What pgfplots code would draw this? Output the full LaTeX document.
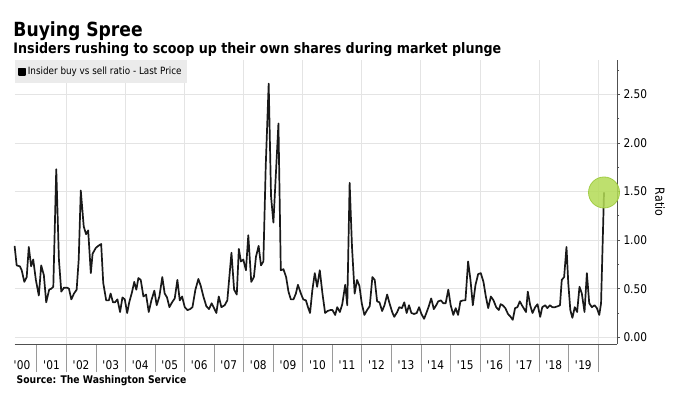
\documentclass[border=0pt]{standalone}
\usepackage{fontspec}
\setmainfont{DejaVu Sans}[FakeStretch=0.88]
\usepackage{pgfplots}
\usepackage{pgfplotstable}
\pgfplotsset{compat=1.18}
\definecolor{gridc}{HTML}{E4E4E4}
\definecolor{axc}{HTML}{505050}
\definecolor{sepc}{HTML}{9A9A9A}
\definecolor{legc}{HTML}{EBEBEB}
\definecolor{circf}{HTML}{B3DB55}
\definecolor{circd}{HTML}{9CC93C}
\newcommand\q{\textquotesingle}

\pgfplotstableread{
year ratio
2000.25 0.94
2000.32 0.74
2000.43 0.73
2000.49 0.69
2000.58 0.57
2000.66 0.62
2000.73 0.93
2000.81 0.73
2000.88 0.80
2000.97 0.59
2001.07 0.43
2001.15 0.74
2001.24 0.64
2001.32 0.36
2001.42 0.49
2001.49 0.50
2001.56 0.52
2001.66 1.73
2001.75 0.80
2001.83 0.47
2001.92 0.51
2002.03 0.51
2002.09 0.50
2002.17 0.39
2002.26 0.45
2002.35 0.49
2002.42 0.80
2002.49 1.51
2002.59 1.14
2002.67 1.06
2002.74 1.10
2002.83 0.66
2002.89 0.86
2003.00 0.92
2003.08 0.94
2003.18 0.96
2003.25 0.56
2003.35 0.38
2003.44 0.38
2003.50 0.45
2003.58 0.36
2003.65 0.36
2003.73 0.39
2003.82 0.26
2003.90 0.41
2003.98 0.39
2004.06 0.25
2004.13 0.36
2004.22 0.46
2004.30 0.57
2004.37 0.49
2004.44 0.61
2004.52 0.59
2004.61 0.42
2004.70 0.44
2004.79 0.26
2004.88 0.38
2004.98 0.48
2005.06 0.33
2005.15 0.42
2005.25 0.62
2005.33 0.45
2005.41 0.41
2005.49 0.31
2005.58 0.36
2005.67 0.40
2005.76 0.59
2005.84 0.38
2005.92 0.42
2006.01 0.31
2006.10 0.28
2006.19 0.29
2006.27 0.31
2006.37 0.49
2006.47 0.60
2006.55 0.53
2006.64 0.42
2006.74 0.32
2006.83 0.29
2006.92 0.35
2007.00 0.30
2007.08 0.25
2007.16 0.42
2007.25 0.31
2007.36 0.33
2007.45 0.38
2007.59 0.87
2007.68 0.49
2007.77 0.44
2007.84 0.91
2007.91 0.78
2007.99 0.80
2008.08 0.69
2008.16 1.05
2008.26 0.57
2008.35 0.62
2008.42 0.83
2008.51 0.94
2008.59 0.74
2008.67 0.78
2008.75 1.76
2008.85 2.61
2008.93 1.45
2009.01 1.18
2009.10 1.72
2009.18 2.20
2009.26 0.69
2009.35 0.70
2009.44 0.62
2009.52 0.47
2009.60 0.39
2009.69 0.39
2009.77 0.45
2009.84 0.54
2009.94 0.45
2010.02 0.39
2010.11 0.38
2010.18 0.31
2010.25 0.25
2010.33 0.49
2010.41 0.66
2010.49 0.52
2010.58 0.69
2010.67 0.45
2010.76 0.25
2010.84 0.27
2010.93 0.28
2011.01 0.28
2011.10 0.23
2011.17 0.31
2011.26 0.26
2011.34 0.34
2011.44 0.54
2011.51 0.33
2011.59 1.59
2011.67 0.93
2011.76 0.45
2011.84 0.59
2011.92 0.53
2012.00 0.35
2012.09 0.23
2012.18 0.28
2012.27 0.32
2012.36 0.62
2012.44 0.59
2012.52 0.37
2012.60 0.36
2012.69 0.27
2012.77 0.33
2012.86 0.44
2012.94 0.35
2013.03 0.26
2013.10 0.21
2013.20 0.26
2013.27 0.31
2013.36 0.30
2013.44 0.36
2013.52 0.25
2013.60 0.33
2013.68 0.25
2013.77 0.24
2013.86 0.25
2013.94 0.31
2014.02 0.24
2014.11 0.19
2014.20 0.26
2014.27 0.32
2014.35 0.40
2014.44 0.29
2014.52 0.33
2014.59 0.37
2014.68 0.38
2014.76 0.35
2014.84 0.35
2014.93 0.49
2015.01 0.33
2015.10 0.23
2015.18 0.30
2015.26 0.23
2015.34 0.37
2015.43 0.38
2015.51 0.38
2015.60 0.78
2015.68 0.59
2015.76 0.33
2015.85 0.54
2015.94 0.65
2016.03 0.66
2016.12 0.57
2016.20 0.42
2016.28 0.30
2016.37 0.42
2016.46 0.38
2016.55 0.31
2016.64 0.28
2016.70 0.34
2016.77 0.33
2016.86 0.30
2016.95 0.24
2017.04 0.21
2017.11 0.18
2017.19 0.30
2017.27 0.31
2017.35 0.37
2017.42 0.33
2017.48 0.30
2017.56 0.26
2017.62 0.47
2017.70 0.33
2017.78 0.25
2017.87 0.31
2017.95 0.34
2018.04 0.21
2018.11 0.31
2018.21 0.33
2018.28 0.30
2018.37 0.33
2018.45 0.31
2018.54 0.31
2018.64 0.32
2018.71 0.33
2018.77 0.59
2018.85 0.62
2018.93 0.93
2018.99 0.56
2019.06 0.28
2019.13 0.20
2019.21 0.31
2019.29 0.26
2019.37 0.52
2019.45 0.45
2019.54 0.26
2019.62 0.66
2019.70 0.35
2019.79 0.31
2019.88 0.33
2019.96 0.30
2020.04 0.23
2020.10 0.35
2020.20 1.49
}\ratiodata

\begin{document}
\begin{tikzpicture}[x=1bp,y=1bp]
\useasboundingbox (0,0) rectangle (680,396);
% background axis: vertical grid and year separators
\begin{axis}[
  at={(14.6bp,52bp)}, anchor=south west, scale only axis,
  width=602.4bp, height=284bp,
  xmin=2000.25, xmax=2020.64, ymin=-0.069, ymax=2.853,
  axis x line*=bottom, hide y axis,
  axis line style={draw=none},
  xtick={2001,2002,2003,2004,2005,2006,2007,2008,2009,2010,2011,2012,2013,2014,2015,2016,2017,2018,2019,2020},
  xticklabels={},
  major tick length=28bp, tick align=outside,
  xtick style={draw=sepc, line width=0.6bp},
  extra x ticks={2002,2004,2006,2008,2010,2012,2014,2016,2018,2020},
  extra x tick labels={},
  extra x tick style={grid=major},
  grid style={draw=gridc, line width=0.8bp},
]
\end{axis}
% main axis
\begin{axis}[
  at={(14.6bp,52bp)}, anchor=south west, scale only axis,
  width=602.4bp, height=284bp,
  xmin=2000.25, xmax=2020.64, ymin=-0.069, ymax=2.853,
  axis x line*=bottom, axis y line*=right,
  axis line style={-, draw=axc, line width=0.9bp},
  xtick={2000.5,2001.5,2002.5,2003.5,2004.5,2005.5,2006.5,2007.5,2008.5,2009.5,2010.5,2011.5,2012.5,2013.5,2014.5,2015.5,2016.5,2017.5,2018.5,2019.5},
  xticklabels={\q00,\q01,\q02,\q03,\q04,\q05,\q06,\q07,\q08,\q09,\q10,\q11,\q12,\q13,\q14,\q15,\q16,\q17,\q18,\q19},
  xtick style={draw=none},
  xticklabel style={font=\fontsize{12bp}{12bp}\selectfont, anchor=base, yshift=-22bp},
  ytick={0,0.5,1,1.5,2,2.5},
  minor ytick={0.25,0.75,1.25,1.75,2.25,2.75},
  major tick length=3bp, minor tick length=2bp, tick align=outside,
  ytick style={draw=axc, line width=0.7bp},
  yticklabel style={font=\fontsize{12bp}{12bp}\selectfont, /pgf/number format/.cd, fixed, fixed zerofill, precision=2},
  /pgf/number format/assume math mode=true,
  ymajorgrids, grid style={draw=gridc, line width=0.8bp},
  ylabel={Ratio},
  every axis y label/.style={at={(axis description cs:1.0714,0.5)}, rotate=-90, anchor=center, font=\fontsize{12.5bp}{12.5bp}\selectfont},
  legend style={at={(0,1)}, anchor=north west, fill=legc, draw=none,
    inner xsep=3bp, inner ysep=5bp, font=\fontsize{10bp}{10bp}\selectfont},
  legend cell align=left,
  legend image code/.code={\fill[black] (0bp,-3.2bp) rectangle (6.4bp,3.2bp);},
  clip=false,
]
\addplot[only marks, mark=*, mark size=15.5bp, mark options={fill=circf, fill opacity=0.85, draw=circd, draw opacity=0.9, line width=0.8bp}, forget plot] coordinates {(2020.20,1.49)};
\addplot[black!90, line width=1.7bp, line join=round] table[x=year, y=ratio] {\ratiodata};
\addlegendentry{Insider buy vs sell ratio - Last Price}
\end{axis}
\node[anchor=base west, inner sep=0] at (13.3,360) {\fontsize{19.5bp}{19.5bp}\selectfont\bfseries Buying Spree};
\node[anchor=base west, inner sep=0] at (13.3,342.7) {\fontsize{14.4bp}{14.4bp}\selectfont\bfseries Insiders rushing to scoop up their own shares during market plunge};
\node[anchor=base west, inner sep=0] at (16.5,13) {\fontsize{10.5bp}{10.5bp}\selectfont\bfseries Source: The Washington Service};
\end{tikzpicture}
\end{document}
